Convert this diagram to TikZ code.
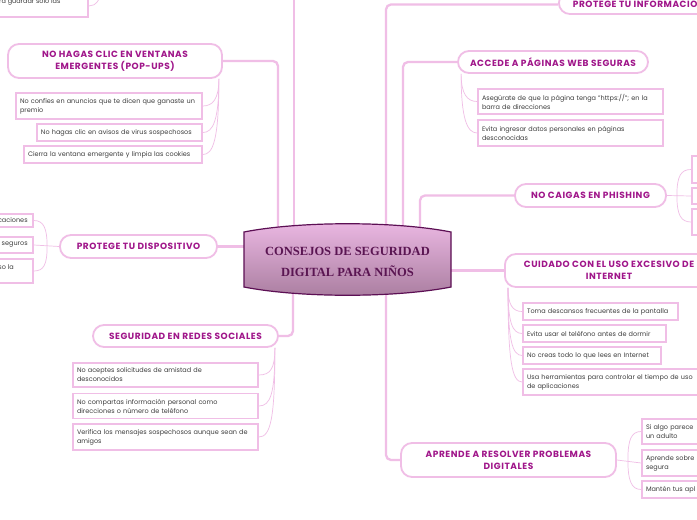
\documentclass[tikz,border=0pt]{standalone}
\usepackage{fontspec}
\setmainfont{Poppins}
\newfontfamily\titlefont[LetterSpace=6]{Poppins}
\newfontfamily\serifbold{Liberation Serif}
\definecolor{lpink}{HTML}{F0BEE6}
\definecolor{tcol}{HTML}{A0168A}
\definecolor{dgray}{HTML}{3C3C3C}
\definecolor{ctop}{HTML}{EBB8E3}
\definecolor{cbot}{HTML}{A97D9F}
\definecolor{cbord}{HTML}{5C0F54}
\definecolor{ctext}{HTML}{5A1552}
\pgfdeclarelayer{bg}
\pgfdeclarelayer{lines}
\pgfsetlayers{bg,lines,main}
\tikzset{
 conn/.style={draw=lpink, line width=2.3pt, rounded corners=5pt},
 sub/.style={draw=lpink, line width=0.7pt},
 topic/.style={draw=lpink, line width=1.8pt, rounded corners=11pt, fill=white, text=tcol, font=\titlefont\fontsize{9}{12}\selectfont\bfseries, align=center, inner sep=0pt},
 leaf/.style={draw=lpink, line width=1.7pt, fill=white, text=dgray, font=\fontsize{6.5}{9}\selectfont, align=left, inner xsep=4pt, inner ysep=0pt},
 leafbox/.style={draw=lpink, line width=1.7pt, fill=white, inner sep=0pt},
 ltext/.style={text=dgray, font=\fontsize{6.5}{9}\selectfont, inner sep=0pt},
}
\begin{document}
\begin{tikzpicture}[x=1pt,y=-1pt]
\useasboundingbox (0,0) rectangle (697,520);
\clip (0,0) rectangle (697,520);
\begin{pgfonlayer}{bg}
\fill[white] (0,0) rectangle (697,520);
\end{pgfonlayer}
% anchor points inside the central shape
\coordinate (cPop) at (278,250);
\coordinate (cTop) at (294,250);
\coordinate (cInf) at (386,250);
\coordinate (cAcc) at (403,250);
\coordinate (cPhi) at (420,250);
\coordinate (cRed) at (293,270);
\coordinate (cApr) at (386,270);
\coordinate (tlo) at (294,-10);
\coordinate (tlp) at (101,-12);
% central shape
\path[draw=cbord, line width=1.2pt, top color=ctop, bottom color=cbot]
  (244,232) .. controls (300,221) and (395,221) .. (451,232) -- (451,287)
  .. controls (395,298) and (300,298) .. (244,287) -- cycle;
\node[font=\serifbold\bfseries\fontsize{12.5}{21}\selectfont, text=ctext, align=center, inner sep=0pt] (c) at (347.5,261.5) {CONSEJOS DE SEGURIDAD\\DIGITAL PARA NIÑOS};
% topic nodes
\node[topic, minimum width=214pt, minimum height=34pt] (pop) at (115,61) {NO HAGAS CLIC EN VENTANAS\\EMERGENTES (POP-UPS)};
\node[topic, minimum width=157pt, minimum height=23pt] (disp) at (138.5,246.5) {PROTEGE TU DISPOSITIVO};
\node[topic, minimum width=185pt, minimum height=22pt] (red) at (185.5,336) {SEGURIDAD EN REDES SOCIALES};
\node[topic, minimum height=22pt, inner xsep=14pt, anchor=west] (info) at (558,3) {PROTEGE TU INFORMACIÓN};
\node[topic, minimum width=190pt, minimum height=22pt] (acc) at (553,62) {ACCEDE A PÁGINAS WEB SEGURAS};
\node[topic, minimum width=151pt, minimum height=23pt] (phi) at (590.5,195.5) {NO CAIGAS EN PHISHING};
\node[topic, minimum height=33pt, inner xsep=19pt, anchor=west] (cui) at (504,270.5) {CUIDADO CON EL USO EXCESIVO DE\\INTERNET};
\node[topic, minimum width=215pt, minimum height=34pt] (apr) at (508.5,460) {APRENDE A RESOLVER PROBLEMAS\\DIGITALES};
% leaves: top-left (cut)
\node[leafbox, minimum width=100pt, minimum height=40pt] (tl) at (38,-3) {};
\node[ltext, anchor=west] (tlt) at (-1,2) {ra guardar solo las};
% pop-ups leaves
\node[leaf, text width=178pt, minimum height=26pt] (pa) at (109,106) {No confíes en anuncios que te dicen que ganaste un\\premio};
\node[leaf, text width=157pt, minimum height=17pt] (pb) at (119.5,132.5) {No hagas clic en avisos de virus sospechosos};
\node[leaf, text width=170pt, minimum height=17pt] (pc) at (113,154.5) {Cierra la ventana emergente y limpia las cookies};
% dispositivo leaves (cut)
\node[leafbox, minimum width=60pt, minimum height=13pt] (ea) at (3,220.5) {};
\node[ltext, anchor=east] (eat) at ([xshift=-6pt]ea.east) {caciones};
\node[leafbox, minimum width=60pt, minimum height=16pt] (eb) at (3,245) {};
\node[ltext, anchor=east] (ebt) at ([xshift=-6pt]eb.east) {seguros};
\node[leafbox, minimum width=60pt, minimum height=24pt] (ec) at (3,271) {};
\node[ltext, anchor=east] (ect) at ([xshift=-20pt,yshift=4pt]ec.east) {so la};
% redes leaves
\node[leaf, text width=177pt, minimum height=24pt] (fa) at (165.5,375) {No aceptes solicitudes de amistad de\\desconocidos};
\node[leaf, text width=177pt, minimum height=25pt] (fb) at (165.5,406) {No compartas información personal como\\direcciones o número de teléfono};
\node[leaf, text width=177pt, minimum height=26pt] (fc) at (165.5,437) {Verifica los mensajes sospechosos aunque sean de\\amigos};
% accede leaves
\node[leaf, text width=177pt, minimum height=25pt] (aa) at (570.5,101.5) {Asegúrate de que la página tenga "https://"; en la\\barra de direcciones};
\node[leaf, text width=177pt, minimum height=26pt] (ab) at (570.5,133) {Evita ingresar datos personales en páginas\\desconocidas};
% phishing leaves (cut)
\node[leafbox, minimum width=60pt, minimum height=27pt] (ga) at (722,169.5) {};
\node[leafbox, minimum width=60pt, minimum height=16pt] (gb) at (722,196) {};
\node[leafbox, minimum width=60pt, minimum height=26pt] (gc) at (722,222) {};
% cuidado leaves
\node[leaf, text width=147pt, minimum height=17pt] (ca) at (600.5,311.5) {Toma descansos frecuentes de la pantalla};
\node[leaf, text width=135pt, minimum height=17pt] (cb) at (594.5,333.5) {Evita usar el teléfono antes de dormir};
\node[leaf, text width=130pt, minimum height=17pt] (cc) at (592,355.5) {No creas todo lo que lees en Internet};
\node[leaf, text width=182pt, minimum height=26pt] (cd) at (618,382) {Usa herramientas para controlar el tiempo de uso\\de aplicaciones};
% aprende leaves (cut)
\node[leaf, text width=142pt, minimum height=25pt] (da) at (717,431.5) {Si algo parece\\un adulto};
\node[leaf, text width=142pt, minimum height=26pt] (db) at (717,463) {Aprende sobre\\segura};
\node[leaf, text width=142pt, minimum height=17pt] (dc) at (717,489.5) {Mantén tus apl};
% connectors
\begin{pgfonlayer}{lines}
\draw[conn] (pop.east) -| (cPop);
\draw[conn] (tlo) -- (cTop);
\draw[conn] ([yshift=-1.5pt]info.west) -| (cInf);
\draw[conn] (acc.west) -| (cAcc);
\draw[conn] (phi.west) -| (cPhi);
\draw[conn] (disp.east) -- (disp.east -| c.center);
\draw[conn] (cui.west) -- (cui.west -| c.center);
\draw[conn] (red.east) -| (cRed);
\draw[conn] (apr.west) -| (cApr);
% sub connectors
\draw[sub] (tlp) .. controls +(0,12) and +(7,0) .. ([yshift=-9pt]tl.east);
\draw[sub] ([xshift=-4pt]pop.south east) .. controls +(0,20) and +(10,0) .. (pa.east);
\draw[sub] ([xshift=-4pt]pop.south east) .. controls +(0,42) and +(10,0) .. (pb.east);
\draw[sub] ([xshift=-4pt]pop.south east) .. controls +(0,62) and +(10,0) .. (pc.east);
\draw[sub] (disp.west) -- (eb.east);
\draw[sub] ([xshift=-12pt]disp.west) .. controls +(0,-18) and +(10,0) .. (ea.east);
\draw[sub] ([xshift=-12pt]disp.west) .. controls +(0,18) and +(10,0) .. (ec.east);
\draw[sub] ([xshift=-4pt]red.south east) .. controls +(0,20) and +(12,0) .. (fa.east);
\draw[sub] ([xshift=-4pt]red.south east) .. controls +(0,45) and +(12,0) .. (fb.east);
\draw[sub] ([xshift=-4pt]red.south east) .. controls +(0,70) and +(12,0) .. (fc.east);
\draw[sub] ([xshift=4pt]acc.south west) .. controls +(0,20) and +(-10,0) .. (aa.west);
\draw[sub] ([xshift=4pt]acc.south west) .. controls +(0,45) and +(-10,0) .. (ab.west);
\draw[sub] (phi.east) -- (gb.west);
\draw[sub] ([xshift=10pt]phi.east) .. controls +(0,-20) and +(-10,0) .. (ga.west);
\draw[sub] ([xshift=10pt]phi.east) .. controls +(0,20) and +(-10,0) .. (gc.west);
\draw[sub] ([xshift=4pt]cui.south west) .. controls +(0,16) and +(-10,0) .. (ca.west);
\draw[sub] ([xshift=4pt]cui.south west) .. controls +(0,34) and +(-10,0) .. (cb.west);
\draw[sub] ([xshift=4pt]cui.south west) .. controls +(0,52) and +(-10,0) .. (cc.west);
\draw[sub] ([xshift=4pt]cui.south west) .. controls +(0,74) and +(-10,0) .. (cd.west);
\draw[sub] (apr.east) -- (db.west);
\draw[sub] ([xshift=11pt]apr.east) .. controls +(0,-20) and +(-10,0) .. (da.west);
\draw[sub] ([xshift=11pt]apr.east) .. controls +(0,20) and +(-10,0) .. (dc.west);
\end{pgfonlayer}
\end{tikzpicture}
\end{document}
